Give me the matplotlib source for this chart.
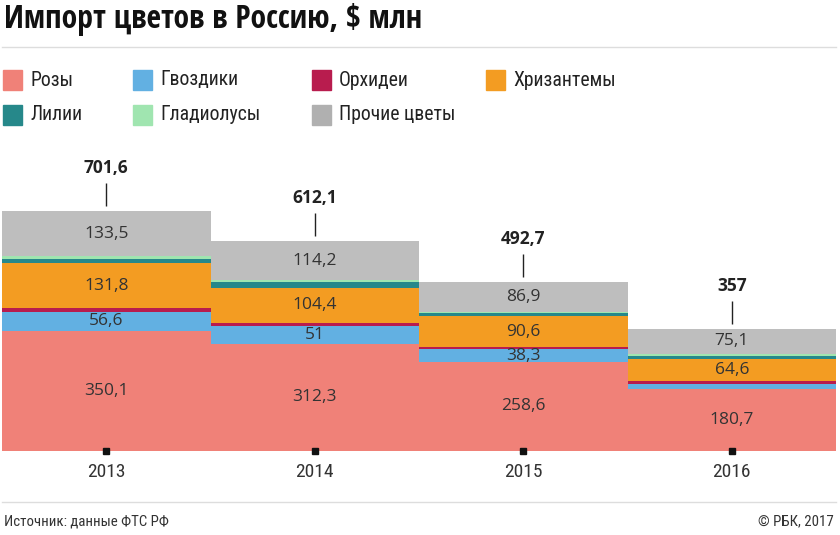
import numpy as np
import matplotlib
matplotlib.use("Agg")
import matplotlib.pyplot as plt
from matplotlib.patches import Rectangle
from matplotlib.lines import Line2D

# --- data ---
years = ["2013", "2014", "2015", "2016"]
totals = [701.6, 612.1, 492.7, 357]
roses = [350.1, 312.3, 258.6, 180.7]
carnations = [56.6, 51, 38.3, 14.6]
orchids = [9.6, 9.2, 5.8, 7.0]
chrysanthemums = [131.8, 104.4, 90.6, 64.6]
lilies = [13.5, 15.5, 9.5, 11.0]
gladioli = [6.5, 5.5, 3.0, 4.0]
other = [133.5, 114.2, 86.9, 75.1]

series = [
    ("Розы", roses, "#F08178"),
    ("Гвоздики", carnations, "#62B0E2"),
    ("Орхидеи", orchids, "#B81C4E"),
    ("Хризантемы", chrysanthemums, "#F39C22"),
    ("Лилии", lilies, "#26888A"),
    ("Гладиолусы", gladioli, "#A0E5B0"),
    ("Прочие цветы", other, "#BEBEBE"),
]
legend_colors = {"Прочие цветы": "#B0B0B0"}

W, H = 840, 535
TITLE = ["Open Sans Condensed", "DejaVu Sans"]
COND = ["Roboto Condensed", "DejaVu Sans"]
REG = ["Open Sans", "DejaVu Sans"]


def fx(px):
    return px / W


def fy(py):
    return 1 - py / H


fig = plt.figure(figsize=(W / 100, H / 100), dpi=100)

# axes: x from 2 to 836 px, baseline at 450.7 px
base = 450.7
scale = 240 / 701.6  # px per unit
ax_top = 150
ax = fig.add_axes([fx(2), fy(base), fx(834), (base - ax_top) / H])
ax.set_xlim(-0.5, 3.5)
ax.set_ylim(0, (base - ax_top) / scale)
ax.axis("off")

x = np.arange(len(years))
bottom = np.zeros(len(years))
for name, vals, col in series:
    vals = np.array(vals, dtype=float)
    ax.bar(x, vals, bottom=bottom, width=1.0, color=col, linewidth=0)
    if name in ("Розы", "Гвоздики", "Хризантемы", "Прочие цветы"):
        for i, v in enumerate(vals):
            if v > 30:
                lbl = f"{v:g}".replace(".", ",")
                ax.text(x[i], bottom[i] + v / 2, lbl, ha="center", va="center",
                        fontsize=12.5, color="#333333", family=REG)
    bottom += vals

# totals with leader lines
for i, t in enumerate(totals):
    top = bottom[i]
    ax.vlines(x[i], top + 5 / scale, top + 28 / scale, color="#222222", lw=1)
    ax.text(x[i], top + 43 / scale, f"{t:g}".replace(".", ","), ha="center",
            va="center", fontsize=12.5, fontweight="bold", color="#222222",
            family=REG)

# tick squares on baseline and year labels
ax.plot(x, np.zeros(len(x)), ls="none", marker="s", ms=4.5, color="#111111",
        clip_on=False, zorder=5)
for i, yr in enumerate(years):
    ax.text(x[i], -21 / scale, yr, ha="center", va="center", fontsize=14,
            color="#333333", family=COND)

# title and rules
fig.text(fx(4), fy(19), "Импорт цветов в Россию, $ млн", ha="left", va="center",
         fontsize=22.8, fontweight="bold", color="#111111", family=TITLE)
fig.add_artist(Line2D([fx(2), fx(836)], [fy(47), fy(47)], color="#DDDDDD", lw=1))
fig.add_artist(Line2D([fx(2), fx(836)], [fy(502), fy(502)], color="#DDDDDD", lw=1))

# legend
leg_pos = [(3, 80), (133, 80), (312, 80), (486, 80), (3, 115), (133, 115), (312, 115)]
for (name, vals, col), (lx, ly) in zip(series, leg_pos):
    c = legend_colors.get(name, col)
    fig.add_artist(Rectangle((fx(lx), fy(ly + 10)), fx(19), 20 / H, color=c,
                             transform=fig.transFigure))
    fig.text(fx(lx + 27), fy(ly), name, ha="left", va="center", fontsize=14.2,
             color="#222222", family=COND)

# footer
fig.text(fx(4), fy(521), "Источник: данные ФТС РФ", ha="left", va="center",
         fontsize=10.7, color="#333333", family=COND)
fig.text(fx(834), fy(521), "© РБК, 2017", ha="right", va="center",
         fontsize=10.7, color="#333333", family=COND)

fig.savefig("out.png", dpi=100)
